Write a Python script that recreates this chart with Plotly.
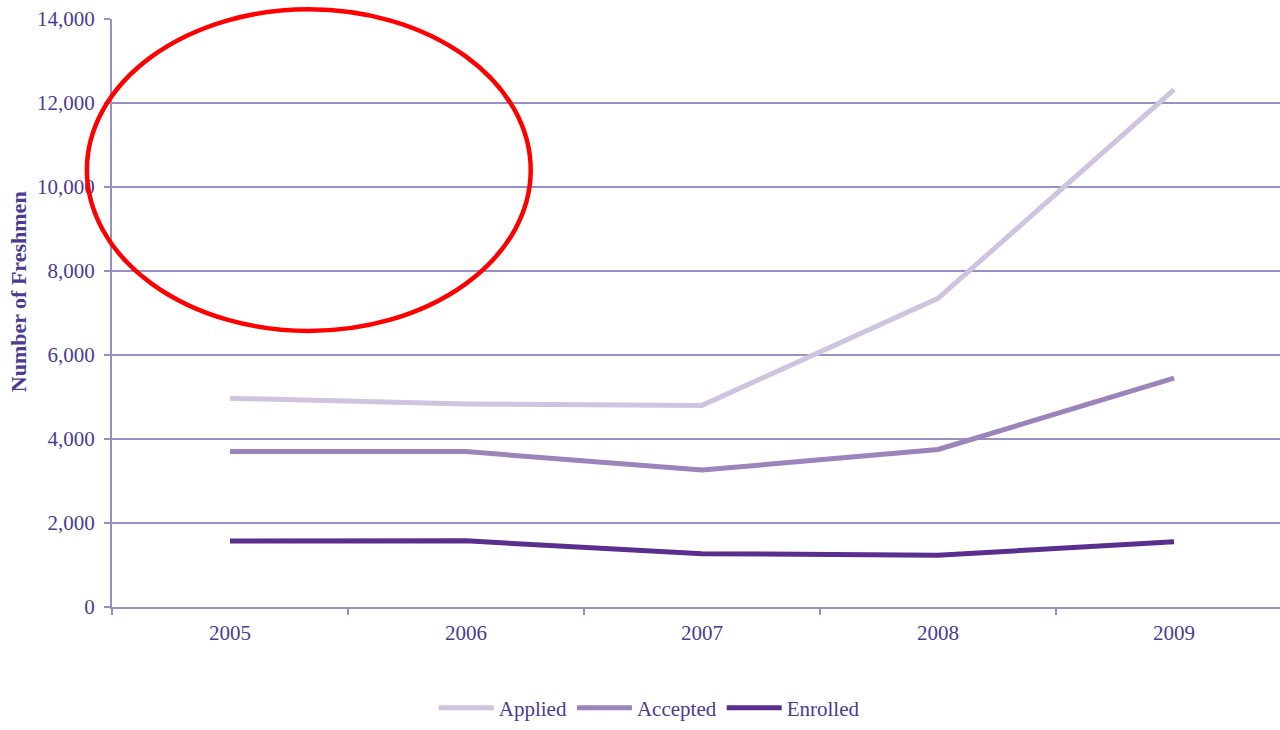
import plotly.graph_objects as go

years = ["2005", "2006", "2007", "2008", "2009"]
applied = [4970, 4835, 4800, 7350, 12320]
accepted = [3700, 3700, 3260, 3750, 5450]
enrolled = [1570, 1575, 1270, 1230, 1555]

series_names = ["Applied", "Accepted", "Enrolled"]
series_values = [applied, accepted, enrolled]
series_colors = ["#CFC4DF", "#9B84BA", "#5B2D8C"]
y_title = "Number of Freshmen"

text_color = "#4B3B92"
grid_color = "#9691C2"
font_family = "Liberation Serif, Times New Roman, serif"

fig = go.Figure()
for name, vals, col in zip(series_names, series_values, series_colors):
    fig.add_trace(go.Scatter(x=years, y=vals, name=name, mode="lines",
                             line=dict(color=col, width=5)))

fig.update_layout(
    width=1280, height=730,
    margin=dict(l=112, r=0, t=19, b=123),
    paper_bgcolor="white", plot_bgcolor="white",
    font=dict(family=font_family, size=21, color=text_color),
    showlegend=True,
    legend=dict(orientation="h", x=0.46, xanchor="center", y=-0.172, yanchor="middle",
                font=dict(size=21, color=text_color), itemwidth=55, tracegroupgap=0),
    xaxis=dict(type="category", range=[-0.5, 4.449], showgrid=False,
               showline=True, linecolor=grid_color, linewidth=2,
               ticks="outside", tickson="boundaries", ticklen=6, tickcolor=grid_color,
               tickwidth=1.5, tickfont=dict(size=21, color=text_color),
               ticklabelstandoff=6, zeroline=False),
    yaxis=dict(range=[0, 14000], dtick=2000, tickformat=",d",
               showgrid=True, gridcolor=grid_color, gridwidth=1.5,
               showline=True, linecolor=grid_color, linewidth=2,
               ticks="outside", ticklen=6, tickcolor=grid_color, tickwidth=1.5,
               tickfont=dict(size=21, color=text_color), ticklabelstandoff=5,
               zeroline=False),
)

fig.add_annotation(text="<b>" + y_title + "</b>", textangle=-90, showarrow=False,
                   xref="paper", yref="paper", x=-0.0805, y=0.537,
                   xanchor="center", yanchor="middle",
                   font=dict(size=22, color=text_color, family=font_family))

fig.add_shape(type="circle", xref="paper", yref="paper",
              x0=-0.0215, x1=0.3585, y0=0.4695, y1=1.0165,
              line=dict(color="#FF0000", width=4.5), layer="above")

fig.write_html("out.html", config={"displayModeBar": False},
               post_script="document.body.style.margin='0';document.body.style.overflow='hidden';")
